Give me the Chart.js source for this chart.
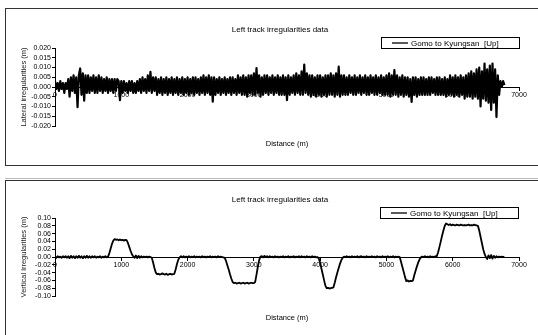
<!DOCTYPE html>
<html>
<head>
<meta charset="utf-8">
<script src="https://cdn.jsdelivr.net/npm/chart.js@4/dist/chart.umd.min.js"></script>
<style>
  html, body { margin: 0; padding: 0; background: #fff; width: 538px; height: 335px; overflow: hidden; }
  .panel { position: absolute; border: 1px solid #333; box-sizing: border-box; }
  .wrap { position: absolute; left: 0; width: 538px; }
  canvas { display: block; }
</style>
</head>
<body>
<div class="panel" style="left:5px; top:8px; width:600px; height:158px;"></div>
<div style="position:absolute; left:5px; top:178px; width:600px; height:1px; background:#bbb;"></div>
<div class="panel" style="left:5px; top:180px; width:600px; height:200px;"></div>
<div class="wrap" style="top:0px; height:170px;"><canvas id="c1"></canvas></div>
<div class="wrap" style="top:170px; height:165px;"><canvas id="c2"></canvas></div>
<script>
// ---- data ----
const chartTitle = "Left track irregularities data";
const seriesName = "Gomo to Kyungsan  [Up]";
const xAxisTitle = "Distance (m)";
const lateralTitle = "Lateral irregularities (m)";
const verticalTitle = "Vertical irregularities (m)";

// distance grid of the sampled records (m)
const distanceStart = 0;
const distanceStep = 20;

const distanceTicks = [0, 1000, 2000, 3000, 4000, 5000, 6000, 7000];
const lateralTicks = [-0.020, -0.015, -0.010, -0.005, 0.000, 0.005, 0.010, 0.015, 0.020];
const verticalTicks = [-0.10, -0.08, -0.06, -0.04, -0.02, 0.00, 0.02, 0.04, 0.06, 0.08, 0.10];

const lateralValues = [
  .003,-.001,.002,-.002,.003,-.001,.002,-.003,.002,-.001,
  .004,-.005,.005,-.002,.006,-.003,.005,-.0103,.006,.0095,
  -.004,.007,-.007,.006,-.003,.006,-.003,.005,-.002,.006,
  -.003,.005,-.003,.006,-.002,.005,-.003,.004,-.002,.005,
  -.003,.004,-.002,.004,-.003,.004,-.002,.004,.003,-.0067,
  .003,-.003,.003,-.002,.002,-.003,.003,-.002,.003,-.003,
  .002,-.003,.003,-.002,.004,-.003,.005,-.002,.004,-.003,
  .006,-.002,.0078,-.003,.005,-.002,.005,-.004,.004,-.003,
  .005,-.004,.004,-.003,.005,-.004,.004,-.003,.005,-.004,
  .004,-.003,.005,-.004,.004,-.003,.005,-.004,.004,-.003,
  .005,-.004,.004,-.003,.005,-.004,.005,-.003,.004,-.004,
  .005,-.003,.006,-.004,.005,-.003,.006,-.004,.005,-.0075,
  .005,-.004,.004,-.003,.005,-.004,.004,-.003,.005,-.004,
  .004,-.003,.005,-.004,.005,-.003,.004,-.004,.006,-.003,
  .005,-.004,.006,-.004,.005,-.005,.006,-.003,.006,-.004,
  .007,-.004,.0097,-.003,.006,-.005,.005,-.004,.006,-.003,
  .006,-.004,.005,-.003,.006,-.004,.005,-.003,.006,-.004,
  .005,-.004,.006,-.004,.005,-.0067,.006,-.004,.005,-.003,
  .006,-.004,.007,-.003,.006,-.004,.008,-.004,.0115,-.003,
  .007,-.004,.006,-.005,.006,-.004,.005,-.005,.006,-.004,
  .006,-.005,.005,-.004,.006,-.005,.006,-.004,.007,-.004,
  .006,-.005,.007,-.004,.0104,-.005,.006,-.004,.006,-.004,
  .005,-.004,.006,-.003,.005,-.004,.006,-.004,.005,-.003,
  .006,-.004,.005,-.003,.006,-.004,.005,-.004,.006,-.003,
  .005,-.004,.006,-.004,.005,-.003,.006,-.004,.005,-.004,
  .006,-.004,.007,-.005,.006,-.004,.0087,-.004,.006,-.005,
  .005,-.004,.006,-.005,.005,-.004,.005,-.005,.004,-.0077,
  .005,-.004,.005,-.005,.004,-.004,.005,-.004,.005,-.004,
  .004,-.004,.005,-.004,.005,-.003,.004,-.004,.005,-.004,
  .005,-.004,.004,-.004,.005,-.005,.004,-.004,.006,-.004,
  .005,-.005,.006,-.004,.005,-.005,.006,-.004,.005,-.006,
  .006,-.005,.007,-.005,.008,-.006,.007,-.005,.009,-.006,
  .010,-.010,.008,-.006,.012,-.007,.009,-.008,.011,-.0118,
  .012,-.008,.009,-.0154,.006,-.004,.003,.000,.003,.001
];

const verticalValues = [
  .001,-.002,.002,-.001,.001,-.002,.002,-.001,.002,-.002,
  .002,-.003,.003,-.002,.002,-.003,.002,-.002,.003,-.002,
  .002,-.003,.002,-.002,.003,-.002,.002,-.002,.002,-.001,
  .002,-.002,.001,-.001,.002,-.002,.001,-.001,.002,-.001,
  .001,.010,.022,.034,.042,.046,.044,.045,.043,.045,
  .043,.044,.042,.044,.043,.036,.026,.016,.007,.002,
  -.002,.004,-.003,.003,-.002,.002,-.001,.001,.000,.001,
  -.001,.001,.000,-.002,-.014,-.028,-.040,-.044,-.043,-.045,
  -.044,-.042,-.044,-.045,-.043,-.046,-.044,-.043,-.045,-.044,
  -.043,-.032,-.018,-.007,-.001,.002,-.001,.002,-.001,.001,
  .000,.002,-.001,.001,.000,.002,-.001,.001,.000,.001,
  -.001,.002,.000,.001,-.001,.001,.000,.002,-.001,.001,
  .000,.001,-.001,.002,.000,.001,.000,-.001,-.002,-.010,
  -.021,-.032,-.044,-.055,-.064,-.067,-.066,-.068,-.067,-.066,
  -.068,-.067,-.066,-.068,-.067,-.066,-.068,-.067,-.066,-.067,
  -.067,-.064,-.045,-.025,-.008,.001,.002,-.001,.003,.000,
  .002,-.001,.002,.000,.001,-.001,.002,.000,.001,-.001,
  .001,.000,.002,-.001,.001,.000,.002,-.001,.001,.000,
  .002,-.001,.001,.000,.002,-.001,.002,.000,.001,-.001,
  .002,.000,.001,-.001,.002,.000,.001,-.001,.000,-.004,
  -.015,-.030,-.045,-.060,-.074,-.080,-.079,-.081,-.080,-.079,
  -.078,-.066,-.052,-.040,-.028,-.017,-.008,-.002,.001,.000,
  .002,.000,.001,-.001,.002,.000,.001,.000,.002,-.001,
  .001,.002,.000,.001,-.001,.002,.000,.001,.000,.002,
  .000,.001,-.001,.002,.000,.001,-.001,.002,.000,.001,
  .000,.002,-.001,.001,.000,.002,-.001,.001,.000,.001,
  .000,-.012,-.025,-.038,-.051,-.062,-.060,-.063,-.061,-.062,
  -.060,-.047,-.035,-.024,-.014,-.006,-.001,.001,.000,.002,
  .000,.001,-.001,.002,.000,.001,.000,.002,.002,.012,
  .026,.040,.055,.068,.080,.086,.084,.082,.084,.081,
  .083,.082,.081,.083,.082,.081,.083,.082,.081,.082,
  .081,.082,.083,.081,.082,.081,.083,.082,.081,.080,
  .068,.052,.036,.020,.008,.000,-.005,.004,-.003,.005,
  -.004,.003,-.002,.002,-.001,.001,.000,.001,.000,.001
];

// ---- drawing ----
const FONT = "'Liberation Sans', Arial, Helvetica, sans-serif";

const panelText = {
  id: 'panelText',
  afterDraw(chart, args, o) {
    const ctx = chart.ctx;
    ctx.save();
    ctx.fillStyle = '#000';
    ctx.textBaseline = 'middle';
    ctx.font = `8px ${FONT}`;
    ctx.textAlign = 'center';
    ctx.fillText(chartTitle, o.titleX, o.titleY);
    ctx.font = `7.5px ${FONT}`;
    const ca = chart.chartArea;
    ctx.fillText(xAxisTitle, (ca.left + ca.right) / 2, o.xTitleY);
    const [lx, ly, lw, lh] = o.legend;
    ctx.strokeStyle = '#000';
    ctx.lineWidth = 1;
    ctx.strokeRect(lx + 0.5, ly + 0.5, lw, lh);
    const cy = ly + lh / 2 + 0.5;
    ctx.beginPath();
    ctx.moveTo(lx + 11, cy);
    ctx.lineTo(lx + 27, cy);
    ctx.lineWidth = 1.3;
    ctx.stroke();
    ctx.font = `8px ${FONT}`;
    ctx.textAlign = 'left';
    ctx.fillText(seriesName, lx + 30, cy + 0.5);
    ctx.restore();
  }
};

function makeChart(id, values, ticks, decimals, yTitle, lineWidth, text, padBottom) {
  const pts = values.map((v, i) => ({ x: distanceStart + i * distanceStep, y: v }));
  return new Chart(document.getElementById(id), {
    type: 'line',
    data: { datasets: [{
      label: seriesName, data: pts, borderColor: '#000', borderWidth: lineWidth,
      pointRadius: 0, tension: 0, fill: false, borderJoinStyle: 'round'
    }] },
    options: {
      responsive: true, maintainAspectRatio: false, animation: false,
      layout: { padding: { left: 0, right: 19, top: 48, bottom: padBottom } },
      plugins: { legend: { display: false }, tooltip: { enabled: false }, title: { display: false }, panelText: text },
      scales: {
        x: {
          type: 'linear', min: distanceTicks[0], max: distanceTicks[distanceTicks.length - 1],
          position: { y: 0 },
          afterBuildTicks: s => { s.ticks = distanceTicks.map(v => ({ value: v })); },
          grid: { display: true, drawOnChartArea: false, drawTicks: true, tickLength: 3, color: '#000', lineWidth: 1 },
          border: { display: true, color: '#000', width: 1 },
          ticks: { color: '#000', font: { family: FONT, size: 7 }, padding: 1, maxRotation: 0, autoSkip: false,
                   callback: v => String(v) }
        },
        y: {
          type: 'linear', min: ticks[0], max: ticks[ticks.length - 1],
          afterBuildTicks: s => { s.ticks = ticks.map(v => ({ value: v })); },
          afterFit: s => { s.width = 55; },
          grid: { display: true, drawOnChartArea: false, drawTicks: true, tickLength: 3, color: '#000', lineWidth: 1 },
          border: { display: true, color: '#000', width: 1 },
          ticks: { color: '#000', font: { family: FONT, size: 7 }, padding: 1, autoSkip: false,
                   callback: v => (Math.abs(v) < 1e-9 ? 0 : v).toFixed(decimals) },
          title: { display: true, text: yTitle, color: '#222', font: { family: FONT, size: 7.5 }, padding: { top: 19, bottom: 0 } }
        }
      }
    },
    plugins: [panelText]
  });
}

makeChart('c1', lateralValues, lateralTicks, 3, lateralTitle, 2.2,
  { titleX: 280, titleY: 30, xTitleY: 144, legend: [381, 37, 138, 11] }, 44);
makeChart('c2', verticalValues, verticalTicks, 2, verticalTitle, 1.8,
  { titleX: 280, titleY: 30, xTitleY: 148, legend: [380, 37, 138, 11] }, 39);
</script>
</body>
</html>
